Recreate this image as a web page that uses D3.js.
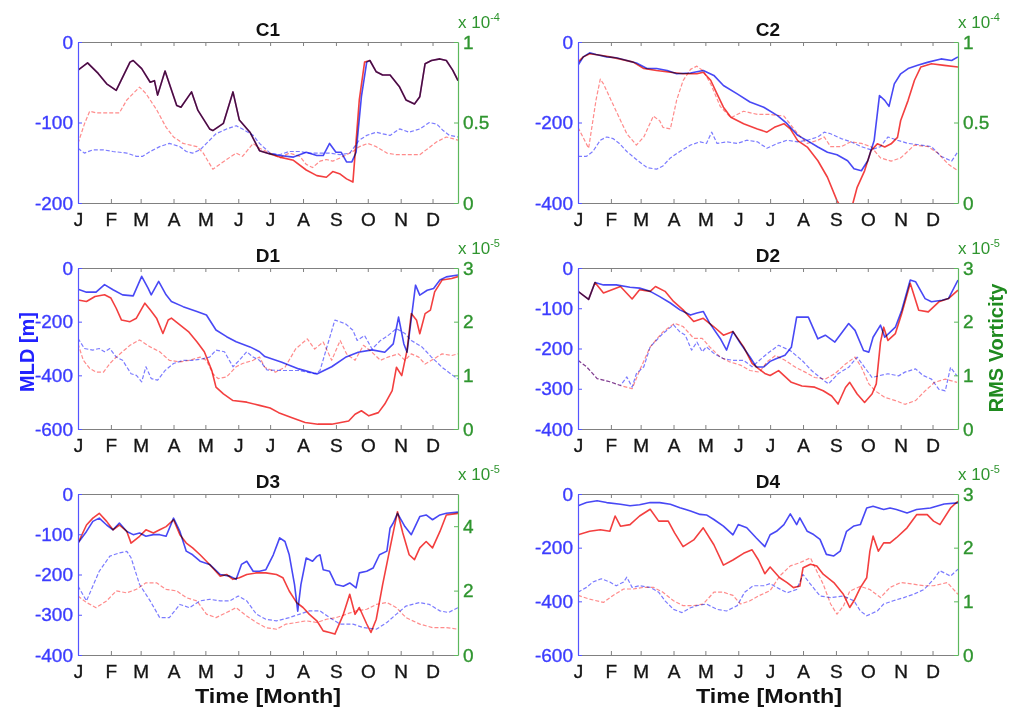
<!DOCTYPE html>
<html><head><meta charset="utf-8">
<script src="https://cdn.jsdelivr.net/npm/d3@7"></script>
<style>
html,body{margin:0;padding:0;background:#fff;}
svg{display:block;font-family:"Liberation Sans",Arial,Helvetica,sans-serif;}
</style></head><body>
<svg id="chart" width="1021" height="713"></svg>
<script>
// ---------- shared axis data ----------
const monthLabels = ["J","F","M","A","M","J","J","A","S","O","N","D"];
const monthStartDays = [0,31,59,90,120,151,181,212,243,273,304,334];
const dayDomain = [0,358];
const panelTitles = ["C1","C2","D1","D2","D3","D4"];
const mldDomains = [[-200,0],[-400,0],[-600,0],[-400,0],[-400,0],[-600,0]];
const mldTicks = [[0,-100,-200],[0,-200,-400],[0,-200,-400,-600],[0,-100,-200,-300,-400],[0,-100,-200,-300,-400],[0,-200,-400,-600]];
const vortDomains = [[0,1],[0,1],[0,3],[0,3],[0,5],[0,3]];
const vortTicks = [[0,0.5,1],[0,0.5,1],[0,1,2,3],[0,1,2,3],[0,2,4],[0,1,2,3]];
const vortExponents = ["-4","-4","-5","-5","-5","-5"];

// ---------- series: [day of year, value] ----------
// MLD (m, left axis), RMS vorticity (x10^exp, right axis)
const c1MldBlue = [[0,-35],[9,-26],[19,-39],[27,-52],[36,-60],[49,-25],[52,-23],[60,-33],[68,-50],[72,-48],[75,-66],[82,-36],[93,-79],[97,-81],[107,-62],[113,-85],[124,-108],[127,-110],[137,-101],[146,-62],[152,-97],[162,-112],[171,-135],[181,-139],[190,-141],[203,-143],[215,-137],[225,-141],[231,-141],[237,-126],[243,-137],[248,-137],[253,-149],[258,-149],[262,-137],[267,-68],[272,-25],[275,-23],[281,-37],[287,-41],[294,-41],[303,-56],[309,-72],[317,-77],[322,-68],[327,-27],[333,-23],[341,-21],[347,-23],[353,-35],[358,-48]];
const c1MldRed = [[0,-35],[9,-26],[19,-39],[27,-52],[36,-60],[49,-25],[52,-23],[60,-33],[68,-50],[72,-48],[75,-66],[82,-36],[93,-79],[97,-81],[107,-62],[113,-85],[124,-108],[127,-110],[137,-101],[146,-62],[152,-97],[162,-112],[171,-135],[181,-139],[190,-143],[203,-147],[215,-159],[225,-166],[234,-168],[240,-161],[247,-164],[253,-170],[259,-174],[265,-72],[270,-25],[275,-23],[281,-37],[287,-41],[294,-41],[303,-56],[309,-72],[317,-77],[322,-68],[327,-27],[333,-23],[341,-21],[347,-23],[353,-35],[358,-48]];
const c1VortBlue = [[0,0.34],[6,0.31],[14,0.33],[24,0.33],[33,0.32],[46,0.31],[55,0.29],[61,0.29],[68,0.32],[77,0.35],[86,0.37],[96,0.35],[102,0.32],[108,0.31],[115,0.33],[121,0.37],[130,0.43],[140,0.46],[149,0.48],[155,0.46],[165,0.42],[171,0.37],[181,0.31],[190,0.3],[199,0.32],[209,0.32],[218,0.31],[228,0.31],[237,0.31],[247,0.3],[256,0.31],[265,0.39],[272,0.42],[281,0.44],[287,0.43],[294,0.42],[303,0.46],[312,0.44],[322,0.46],[331,0.5],[338,0.49],[344,0.45],[350,0.42],[358,0.41]];
const c1VortRed = [[0,0.37],[6,0.49],[11,0.57],[17,0.56],[27,0.56],[39,0.56],[46,0.64],[58,0.72],[64,0.68],[74,0.58],[83,0.47],[90,0.41],[99,0.37],[112,0.35],[118,0.31],[127,0.21],[140,0.27],[149,0.31],[155,0.29],[165,0.37],[171,0.34],[181,0.31],[190,0.28],[199,0.31],[209,0.29],[215,0.24],[221,0.22],[228,0.26],[234,0.27],[240,0.26],[247,0.28],[253,0.3],[259,0.32],[265,0.35],[273,0.37],[281,0.35],[291,0.31],[300,0.3],[309,0.3],[322,0.3],[328,0.33],[338,0.38],[347,0.41],[353,0.4],[358,0.39]];

const c2MldBlue = [[0,-58],[5,-37],[11,-27],[17,-31],[27,-37],[36,-39],[46,-46],[55,-52],[65,-66],[74,-66],[84,-71],[93,-79],[106,-77],[118,-71],[128,-83],[137,-108],[150,-129],[162,-149],[175,-162],[188,-183],[197,-203],[207,-232],[216,-245],[226,-261],[235,-274],[244,-280],[254,-295],[260,-315],[267,-320],[273,-295],[279,-245],[284,-133],[289,-145],[293,-160],[298,-104],[304,-79],[311,-66],[320,-58],[330,-50],[342,-42],[352,-46],[358,-37]];
const c2MldRed = [[0,-50],[5,-37],[11,-29],[21,-33],[30,-37],[39,-42],[52,-50],[62,-66],[74,-71],[87,-75],[99,-79],[112,-79],[118,-75],[125,-95],[131,-129],[137,-162],[144,-187],[156,-203],[169,-216],[178,-224],[185,-212],[194,-203],[200,-216],[207,-245],[216,-261],[226,-295],[235,-336],[244,-394],[251,-425],[257,-420],[263,-361],[270,-320],[276,-270],[282,-253],[289,-261],[295,-253],[301,-237],[304,-195],[311,-145],[317,-95],[323,-62],[333,-54],[345,-58],[358,-62]];
const c2VortBlue = [[0,0.29],[8,0.29],[14,0.32],[21,0.39],[27,0.41],[33,0.4],[39,0.37],[46,0.32],[55,0.27],[65,0.22],[74,0.21],[80,0.23],[87,0.28],[96,0.32],[106,0.36],[115,0.38],[121,0.37],[126,0.44],[131,0.37],[140,0.38],[150,0.37],[159,0.39],[169,0.38],[178,0.34],[188,0.37],[197,0.39],[207,0.38],[216,0.39],[226,0.41],[232,0.44],[238,0.43],[248,0.4],[257,0.38],[267,0.35],[276,0.33],[285,0.35],[292,0.41],[301,0.39],[311,0.37],[323,0.36],[333,0.35],[342,0.29],[352,0.26],[358,0.32]];
const c2VortRed = [[0,0.47],[10,0.34],[17,0.64],[21,0.77],[24,0.74],[36,0.57],[46,0.43],[55,0.36],[62,0.41],[71,0.54],[77,0.51],[80,0.47],[87,0.46],[93,0.64],[99,0.76],[106,0.83],[112,0.85],[118,0.82],[125,0.74],[134,0.6],[144,0.53],[156,0.57],[169,0.55],[181,0.55],[194,0.54],[207,0.43],[216,0.37],[226,0.39],[232,0.41],[238,0.35],[248,0.35],[257,0.38],[267,0.37],[276,0.35],[285,0.28],[295,0.26],[304,0.28],[317,0.36],[330,0.35],[339,0.31],[349,0.24],[358,0.2]];

const d1MldBlue = [[0,-79],[8,-90],[17,-90],[25,-62],[33,-81],[42,-100],[52,-104],[60,-31],[66,-75],[69,-100],[76,-50],[83,-100],[88,-125],[99,-144],[112,-162],[121,-175],[130,-231],[140,-256],[149,-275],[162,-294],[171,-312],[176,-330],[192,-351],[208,-376],[225,-395],[239,-368],[252,-333],[264,-314],[277,-305],[289,-314],[297,-283],[302,-183],[307,-283],[310,-314],[318,-64],[322,-101],[329,-83],[335,-76],[341,-45],[347,-33],[358,-26]];
const d1MldRed = [[0,-119],[8,-125],[16,-106],[25,-100],[31,-112],[36,-150],[41,-194],[49,-200],[55,-187],[63,-131],[68,-156],[74,-187],[80,-244],[85,-194],[88,-187],[96,-212],[104,-237],[112,-275],[119,-312],[126,-381],[130,-444],[137,-469],[146,-494],[159,-500],[171,-512],[181,-522],[189,-539],[201,-557],[214,-576],[226,-582],[239,-582],[255,-570],[261,-545],[267,-532],[274,-551],[283,-539],[289,-507],[296,-457],[300,-370],[305,-401],[310,-307],[314,-170],[319,-195],[322,-245],[327,-170],[332,-157],[336,-89],[343,-45],[352,-39],[358,-32]];
const d1VortBlue = [[0,1.69],[6,1.5],[14,1.47],[20,1.5],[25,1.44],[30,1.5],[36,1.34],[42,1.28],[50,1.03],[55,1.0],[60,0.88],[64,1.16],[69,0.94],[75,0.91],[82,1.09],[90,1.22],[99,1.28],[108,1.28],[118,1.31],[124,1.34],[130,1.47],[138,1.44],[146,1.16],[152,1.28],[159,1.44],[165,1.34],[171,1.28],[178,1.1],[192,1.09],[208,1.09],[223,1.03],[228,1.09],[242,2.03],[252,1.96],[259,1.84],[263,1.65],[270,1.74],[277,1.49],[285,1.65],[292,1.74],[300,1.87],[308,1.78],[314,1.65],[324,1.53],[333,1.34],[343,1.15],[351,1.03],[358,0.93]];
const d1VortRed = [[0,1.59],[5,1.28],[11,1.13],[17,1.06],[24,1.06],[30,1.22],[36,1.34],[49,1.56],[58,1.66],[68,1.53],[77,1.44],[86,1.28],[96,1.25],[105,1.28],[115,1.34],[121,1.28],[127,1.03],[132,0.94],[140,0.97],[149,1.16],[155,1.22],[165,1.28],[171,1.34],[176,1.15],[186,1.06],[195,1.15],[205,1.49],[216,1.68],[223,1.49],[231,1.62],[239,1.28],[247,1.65],[253,1.4],[261,1.28],[269,1.56],[277,1.43],[285,1.28],[292,1.34],[302,1.4],[308,1.28],[314,1.4],[321,1.34],[327,1.21],[333,1.28],[343,1.4],[352,1.37],[358,1.4]];

const d2MldBlue = [[0,-58],[10,-78],[16,-36],[24,-42],[36,-42],[49,-48],[58,-50],[68,-58],[77,-71],[87,-87],[96,-104],[106,-117],[112,-112],[118,-108],[124,-137],[134,-175],[140,-204],[146,-158],[153,-187],[162,-221],[168,-246],[175,-246],[181,-232],[186,-226],[195,-217],[201,-197],[206,-122],[217,-122],[226,-176],[233,-167],[242,-184],[255,-138],[261,-155],[269,-205],[274,-209],[278,-172],[285,-142],[289,-172],[299,-147],[305,-105],[313,-30],[318,-34],[327,-76],[333,-84],[343,-80],[349,-76],[358,-30]];
const d2MldRed = [[0,-58],[10,-78],[16,-36],[24,-62],[32,-54],[40,-46],[51,-77],[58,-54],[68,-58],[73,-46],[82,-58],[90,-83],[99,-104],[109,-133],[118,-125],[128,-146],[137,-167],[146,-158],[156,-196],[164,-237],[170,-250],[176,-262],[181,-267],[189,-255],[201,-284],[211,-293],[223,-296],[231,-305],[239,-318],[245,-338],[252,-297],[256,-284],[263,-313],[270,-334],[277,-313],[281,-288],[285,-184],[288,-147],[292,-180],[299,-163],[305,-113],[313,-38],[321,-105],[330,-109],[340,-84],[349,-76],[358,-55]];
const d2VortBlue = [[0,1.28],[8,1.16],[18,0.94],[30,0.88],[40,0.81],[46,0.97],[51,0.78],[55,1.03],[62,1.16],[68,1.53],[80,1.78],[90,1.94],[96,1.81],[101,1.75],[107,1.47],[112,1.62],[117,1.44],[121,1.53],[128,1.41],[137,1.31],[146,1.28],[156,1.28],[164,1.16],[171,1.28],[178,1.4],[189,1.56],[200,1.46],[211,1.28],[220,1.09],[230,0.93],[236,0.84],[245,1.03],[255,1.15],[263,1.34],[270,1.15],[277,0.96],[283,0.99],[292,1.03],[302,0.99],[308,1.06],[318,1.12],[325,1.0],[333,0.93],[340,0.74],[346,0.71],[351,1.15],[357,0.99]];
const d2VortRed = [[0,1.28],[8,1.16],[18,0.94],[30,0.88],[40,0.81],[51,0.75],[58,1.09],[68,1.53],[80,1.81],[91,1.97],[99,1.91],[109,1.69],[117,1.69],[124,1.53],[134,1.34],[143,1.25],[153,1.19],[162,1.09],[171,1.06],[178,1.25],[186,1.37],[195,1.28],[205,1.15],[214,1.06],[223,0.96],[233,0.93],[242,1.03],[252,1.21],[261,1.34],[267,1.15],[274,0.84],[280,0.71],[289,0.59],[299,0.53],[308,0.46],[318,0.53],[327,0.71],[336,0.87],[346,0.93],[357,0.87]];

const d3MldBlue = [[0,-122],[8,-93],[14,-68],[20,-60],[27,-77],[33,-89],[39,-72],[46,-93],[52,-101],[58,-97],[64,-105],[71,-101],[77,-101],[83,-105],[90,-60],[96,-93],[102,-142],[108,-151],[115,-167],[124,-175],[134,-200],[143,-204],[149,-212],[154,-175],[159,-167],[165,-192],[171,-192],[177,-188],[184,-151],[190,-109],[195,-118],[199,-151],[204,-225],[207,-291],[210,-225],[215,-159],[221,-167],[225,-155],[228,-151],[231,-188],[237,-192],[243,-225],[250,-229],[256,-221],[262,-233],[265,-196],[272,-192],[278,-184],[284,-151],[291,-142],[294,-85],[297,-72],[301,-48],[308,-81],[314,-101],[322,-56],[328,-52],[334,-64],[341,-52],[347,-48],[358,-45]];
const d3MldRed = [[0,-122],[8,-77],[14,-60],[20,-48],[27,-68],[33,-89],[39,-77],[46,-93],[50,-122],[58,-105],[64,-89],[71,-97],[77,-89],[83,-81],[90,-64],[96,-101],[102,-122],[108,-134],[115,-151],[121,-167],[127,-184],[134,-204],[140,-200],[146,-212],[152,-208],[159,-200],[168,-196],[177,-196],[187,-200],[193,-208],[199,-241],[206,-270],[212,-282],[218,-299],[225,-315],[231,-340],[237,-344],[242,-348],[250,-299],[256,-249],[261,-299],[265,-282],[272,-323],[276,-344],[281,-311],[287,-225],[294,-134],[301,-44],[306,-97],[312,-151],[317,-163],[322,-134],[328,-118],[334,-134],[341,-93],[347,-52],[358,-48]];
const d3VortBlue = [[0,2.14],[8,1.68],[14,2.14],[20,2.6],[30,3.07],[39,3.17],[46,3.22],[50,3.02],[58,2.19],[68,1.68],[77,1.16],[86,1.16],[96,1.57],[105,1.47],[115,1.68],[124,1.73],[134,1.68],[143,1.68],[151,1.83],[159,1.68],[168,1.27],[177,1.11],[187,1.06],[199,1.16],[209,1.27],[218,1.37],[228,1.37],[237,1.16],[247,0.96],[259,0.96],[269,0.85],[281,0.8],[291,1.01],[300,1.27],[309,1.52],[322,1.63],[331,1.57],[341,1.37],[349,1.32],[358,1.47]];
const d3VortRed = [[0,1.83],[8,1.63],[17,1.47],[27,1.68],[36,1.99],[46,1.93],[55,2.04],[64,2.24],[74,2.24],[83,2.04],[93,1.99],[102,1.78],[112,1.68],[121,1.27],[130,1.16],[140,1.32],[149,1.47],[159,1.21],[168,1.01],[177,0.85],[187,0.8],[196,0.96],[206,1.01],[215,1.06],[225,1.01],[234,1.11],[243,1.16],[253,1.27],[262,1.37],[272,1.42],[281,1.57],[291,1.63],[300,1.47],[309,1.16],[322,0.96],[334,0.85],[347,0.85],[358,0.8]];

const d4MldBlue = [[0,-44],[8,-32],[18,-25],[27,-32],[40,-38],[49,-44],[58,-40],[68,-32],[77,-32],[87,-38],[96,-51],[106,-63],[115,-76],[121,-78],[128,-95],[137,-120],[146,-152],[151,-114],[159,-126],[168,-164],[176,-196],[181,-152],[187,-139],[194,-114],[200,-74],[206,-114],[209,-89],[216,-139],[222,-151],[228,-169],[234,-225],[241,-231],[247,-213],[253,-139],[260,-119],[266,-114],[272,-52],[278,-46],[288,-58],[294,-52],[300,-58],[310,-71],[319,-58],[332,-52],[345,-37],[358,-33]];
const d4MldRed = [[0,-152],[11,-139],[21,-133],[30,-139],[35,-82],[40,-120],[49,-114],[58,-82],[68,-57],[76,-101],[85,-101],[91,-145],[99,-196],[109,-171],[118,-126],[128,-189],[137,-265],[146,-246],[156,-221],[164,-208],[170,-246],[176,-297],[181,-272],[190,-312],[197,-330],[203,-349],[209,-343],[212,-275],[219,-262],[225,-268],[231,-299],[241,-330],[250,-374],[256,-423],[260,-398],[266,-349],[272,-312],[275,-213],[278,-157],[283,-213],[288,-182],[294,-182],[300,-163],[310,-126],[319,-77],[329,-77],[335,-101],[341,-114],[351,-52],[358,-27]];
const d4VortBlue = [[0,1.17],[8,1.26],[14,1.36],[22,1.42],[30,1.36],[36,1.29],[43,1.36],[46,1.45],[51,1.26],[58,1.29],[68,1.26],[76,1.17],[82,1.01],[90,0.85],[98,0.79],[106,0.88],[112,0.92],[121,0.95],[131,0.85],[140,0.82],[150,0.92],[157,1.17],[165,1.29],[175,1.29],[181,1.33],[187,1.26],[197,1.16],[206,1.22],[212,1.5],[219,1.32],[228,1.1],[238,1.07],[250,1.1],[260,1.01],[266,0.82],[272,0.73],[282,0.82],[288,0.95],[297,1.01],[307,1.07],[316,1.13],[326,1.22],[335,1.41],[341,1.57],[351,1.47],[358,1.6]];
const d4VortRed = [[0,1.11],[11,1.04],[24,0.98],[33,1.11],[43,1.23],[52,1.23],[62,1.26],[71,1.26],[80,1.17],[90,1.01],[99,0.92],[109,0.92],[118,0.95],[128,1.17],[137,1.17],[146,1.11],[153,0.95],[162,1.01],[171,1.11],[181,1.2],[190,1.47],[200,1.66],[209,1.72],[219,1.81],[225,1.56],[231,1.32],[238,0.95],[244,0.76],[250,0.91],[256,1.19],[266,1.28],[275,1.22],[285,1.07],[294,1.26],[304,1.35],[316,1.32],[326,1.29],[335,1.29],[348,1.35],[358,1.13]];

const mldBlueSeries = [c1MldBlue,c2MldBlue,d1MldBlue,d2MldBlue,d3MldBlue,d4MldBlue];
const mldRedSeries = [c1MldRed,c2MldRed,d1MldRed,d2MldRed,d3MldRed,d4MldRed];
const vortBlueSeries = [c1VortBlue,c2VortBlue,d1VortBlue,d2VortBlue,d3VortBlue,d4VortBlue];
const vortRedSeries = [c1VortRed,c2VortRed,d1VortRed,d2VortRed,d3VortRed,d4VortRed];

// ---------- drawing ----------
const svg = d3.select("#chart");
const W = 380, H = 161;
const colX = [78, 578], rowY = [42, 268, 494];
const BLUE = "#3434f4", RED = "#f22a2a", GREEN = "#2f952f", GRAY = "#808080";
const x = d3.scaleLinear().domain(dayDomain).range([0, W]);
const defs = svg.append("defs");

panelTitles.forEach((title, i) => {
  const g = svg.append("g").attr("transform", `translate(${colX[i % 2]},${rowY[Math.floor(i / 2)]})`);
  const yL = d3.scaleLinear().domain(mldDomains[i]).range([H, 0]);
  const yR = d3.scaleLinear().domain(vortDomains[i]).range([H, 0]);

  defs.append("clipPath").attr("id", "clip" + i)
    .append("rect").attr("x", 0).attr("y", 0).attr("width", W).attr("height", H);
  const plot = g.append("g").attr("clip-path", `url(#clip${i})`);

  const lineL = d3.line().x(d => x(d[0])).y(d => yL(d[1]));
  const lineR = d3.line().x(d => x(d[0])).y(d => yR(d[1]));

  const addPath = (data, gen, color, width, dash, op) => {
    plot.append("path").datum(data).attr("d", gen)
      .attr("fill", "none").attr("stroke", color).attr("stroke-width", width)
      .attr("stroke-dasharray", dash).attr("stroke-opacity", op)
      .attr("stroke-linejoin", "round")
      .style("mix-blend-mode", "multiply");
  };
  addPath(vortBlueSeries[i], lineR, "#5a5aff", 1.2, "4,2", 0.8);
  addPath(vortRedSeries[i], lineR, "#ff6464", 1.2, "4,2", 0.75);
  addPath(mldBlueSeries[i], lineL, BLUE, 1.6, null, 0.9);
  addPath(mldRedSeries[i], lineL, RED, 1.6, null, 0.9);

  const styleText = (sel, fill) => sel.attr("font-size", 19).attr("fill", fill)
    .attr("stroke", fill).attr("stroke-width", 0.35)
    .attr("font-family", "Liberation Sans, Arial, sans-serif");

  // top axis (ticks only)
  const top = g.append("g").call(d3.axisTop(x).tickValues(monthStartDays).tickFormat("").tickSizeInner(-4).tickSizeOuter(0));
  top.select(".domain").attr("stroke", GRAY);
  top.selectAll(".tick line").attr("stroke", GRAY);

  // bottom axis with month letters
  const bot = g.append("g").attr("transform", `translate(0,${H})`)
    .call(d3.axisBottom(x).tickValues(monthStartDays).tickFormat((d, k) => monthLabels[k]).tickSizeInner(-4).tickSizeOuter(0).tickPadding(10));
  bot.select(".domain").attr("stroke", GRAY);
  bot.selectAll(".tick line").attr("stroke", GRAY);
  styleText(bot.selectAll(".tick text"), "#151515");

  // left axis (MLD)
  const la = g.append("g").call(d3.axisLeft(yL).tickValues(mldTicks[i]).tickFormat(d => String(d)).tickSizeInner(-4).tickSizeOuter(0).tickPadding(5));
  la.select(".domain").attr("stroke", "#5555ff").attr("stroke-width", 1.2);
  la.selectAll(".tick line").attr("stroke", "#5555ff");
  styleText(la.selectAll(".tick text"), "#3c3cff");

  // right axis (RMS vorticity)
  const ra = g.append("g").attr("transform", `translate(${W},0)`)
    .call(d3.axisRight(yR).tickValues(vortTicks[i]).tickFormat(d => String(d)).tickSizeInner(-4).tickSizeOuter(0).tickPadding(5));
  ra.select(".domain").attr("stroke", "#5cb85c").attr("stroke-width", 1.2);
  ra.selectAll(".tick line").attr("stroke", "#5cb85c");
  styleText(ra.selectAll(".tick text"), GREEN);

  // exponent label
  const ex = g.append("text").attr("x", W).attr("y", -14).attr("fill", GREEN).attr("font-size", 17);
  ex.append("tspan").text("x 10");
  ex.append("tspan").attr("font-size", 11).attr("dy", -7).text(vortExponents[i]);

  // title
  g.append("text").attr("x", W / 2).attr("y", -6).attr("text-anchor", "middle")
    .attr("font-size", 19).attr("font-weight", "bold").attr("fill", "#111").text(title);
});

// axis titles
svg.append("text").attr("transform", "translate(34,352) rotate(-90)").attr("text-anchor", "middle")
  .attr("font-size", 20).attr("font-weight", "bold").attr("fill", "#2222ff").text("MLD [m]");
svg.append("text").attr("transform", "translate(1003,348) rotate(-90)").attr("text-anchor", "middle")
  .attr("font-size", 20).attr("font-weight", "bold").attr("fill", "#1f8a1f").text("RMS Vorticity");
[268, 769].forEach(cx => {
  svg.append("text").attr("x", cx).attr("y", 703).attr("text-anchor", "middle")
    .attr("font-size", 20).attr("font-weight", "bold").attr("fill", "#111")
    .attr("textLength", 146).attr("lengthAdjust", "spacingAndGlyphs").text("Time [Month]");
});
</script>
</body></html>
